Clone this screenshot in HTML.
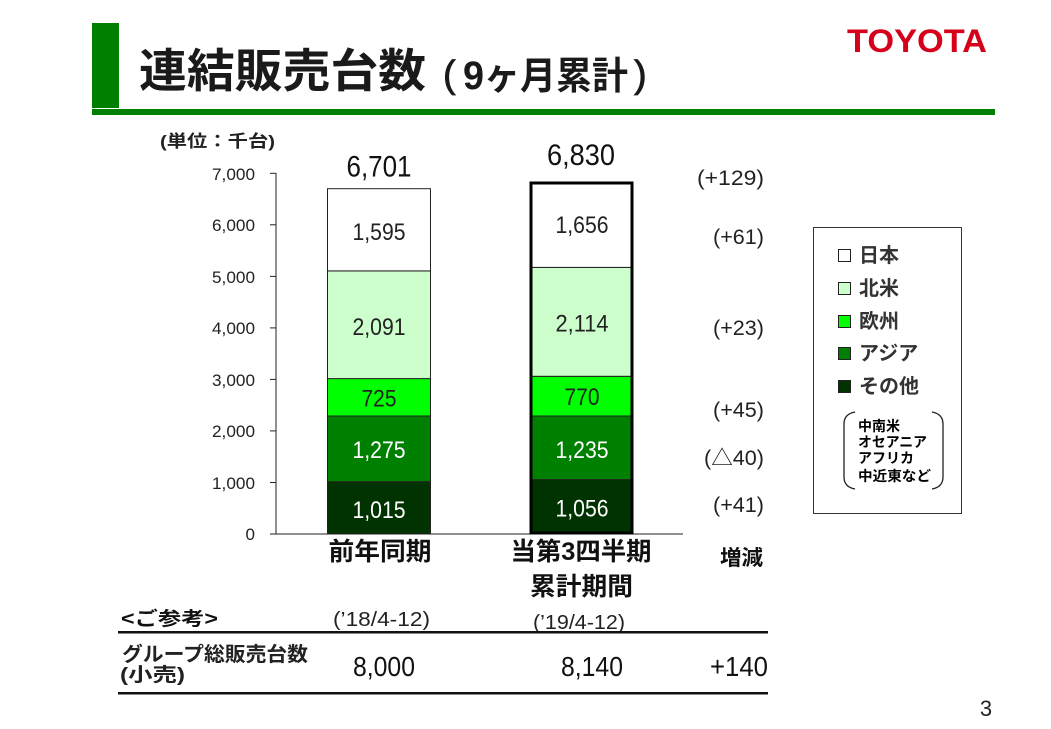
<!DOCTYPE html>
<html><head><meta charset="utf-8"><style>
html,body{margin:0;padding:0;background:#fff;}
svg{display:block;}
.cj{font-family:"Liberation Sans","Noto Sans CJK JP",sans-serif;}
.n{font-family:"Liberation Sans",sans-serif;}
</style></head><body>
<svg width="1051" height="729" viewBox="0 0 1051 729" xmlns="http://www.w3.org/2000/svg">
<rect width="1051" height="729" fill="#fff"/>
<!-- header -->
<rect x="92" y="23" width="27" height="85" fill="#007f00"/>
<rect x="92" y="109" width="903" height="6" fill="#007f00"/>
<text class="cj" x="139" y="87" font-size="46" font-weight="bold" fill="#1a1a1a" textLength="287" lengthAdjust="spacingAndGlyphs">連結販売台数</text>
<text class="n" x="443" y="87" font-size="38" fill="#1a1a1a" stroke="#1a1a1a" stroke-width="0.8">(</text>
<text class="n" x="463" y="89" font-size="40" font-weight="bold" fill="#1a1a1a" textLength="21" lengthAdjust="spacingAndGlyphs">9</text>
<text class="cj" x="484" y="89" font-size="38" font-weight="bold" fill="#1a1a1a" textLength="144" lengthAdjust="spacingAndGlyphs">ヶ月累計</text>
<text class="n" x="634" y="87" font-size="38" fill="#1a1a1a" stroke="#1a1a1a" stroke-width="0.8">)</text>
<text class="n" x="847" y="52" font-size="32" font-weight="bold" fill="#d7001b" textLength="140" lengthAdjust="spacingAndGlyphs">TOYOTA</text>

<!-- unit -->
<text class="cj" x="160" y="147" font-size="17" font-weight="bold" fill="#222" textLength="115" lengthAdjust="spacingAndGlyphs">(単位：千台)</text>

<!-- y axis -->
<g class="n" font-size="17" fill="#222" text-anchor="end">
<text x="255" y="180" textLength="43" lengthAdjust="spacingAndGlyphs">7,000</text>
<text x="255" y="231" textLength="43" lengthAdjust="spacingAndGlyphs">6,000</text>
<text x="255" y="283" textLength="43" lengthAdjust="spacingAndGlyphs">5,000</text>
<text x="255" y="334" textLength="43" lengthAdjust="spacingAndGlyphs">4,000</text>
<text x="255" y="386" textLength="43" lengthAdjust="spacingAndGlyphs">3,000</text>
<text x="255" y="437" textLength="43" lengthAdjust="spacingAndGlyphs">2,000</text>
<text x="255" y="489" textLength="43" lengthAdjust="spacingAndGlyphs">1,000</text>
<text x="255" y="540">0</text>
</g>
<g stroke="#222" stroke-width="1">
<line x1="276" y1="173" x2="276" y2="534"/>
<line x1="270" y1="173.3" x2="276" y2="173.3"/>
<line x1="270" y1="224.8" x2="276" y2="224.8"/>
<line x1="270" y1="276.4" x2="276" y2="276.4"/>
<line x1="270" y1="327.9" x2="276" y2="327.9"/>
<line x1="270" y1="379.4" x2="276" y2="379.4"/>
<line x1="270" y1="430.9" x2="276" y2="430.9"/>
<line x1="270" y1="482.5" x2="276" y2="482.5"/>
<line x1="270" y1="534" x2="683" y2="534"/>
</g>

<!-- bar 1 -->
<g stroke="#222" stroke-width="1">
<rect x="327.5" y="481.7" width="103" height="52.3" fill="#003300"/>
<rect x="327.5" y="416.0" width="103" height="65.7" fill="#008000"/>
<rect x="327.5" y="378.6" width="103" height="37.4" fill="#00ff00"/>
<rect x="327.5" y="270.9" width="103" height="107.7" fill="#ccffcc"/>
<rect x="327.5" y="188.7" width="103" height="82.2" fill="#ffffff"/>
</g>
<!-- bar 2 -->
<g stroke="#222" stroke-width="1">
<rect x="531" y="479.6" width="101" height="54.4" fill="#003300"/>
<rect x="531" y="416.0" width="101" height="63.6" fill="#008000"/>
<rect x="531" y="376.3" width="101" height="39.7" fill="#00ff00"/>
<rect x="531" y="267.4" width="101" height="108.9" fill="#ccffcc"/>
<rect x="531" y="182.1" width="101" height="85.3" fill="#ffffff"/>
</g>
<rect x="531" y="183" width="101" height="350" fill="none" stroke="#000" stroke-width="3"/>

<!-- bar labels -->
<g class="n" font-size="24" text-anchor="middle">
<text x="379" y="176.5" font-size="30" fill="#111" textLength="65" lengthAdjust="spacingAndGlyphs">6,701</text>
<text x="581" y="165" font-size="30" fill="#111" textLength="68" lengthAdjust="spacingAndGlyphs">6,830</text>
<text x="379" y="240" fill="#222" textLength="53" lengthAdjust="spacingAndGlyphs">1,595</text>
<text x="379" y="335" fill="#222" textLength="53" lengthAdjust="spacingAndGlyphs">2,091</text>
<text x="379" y="406.5" fill="#222" textLength="35" lengthAdjust="spacingAndGlyphs">725</text>
<text x="379" y="458" fill="#fff" textLength="53" lengthAdjust="spacingAndGlyphs">1,275</text>
<text x="379" y="518" fill="#fff" textLength="53" lengthAdjust="spacingAndGlyphs">1,015</text>
<text x="582" y="233" fill="#222" textLength="53" lengthAdjust="spacingAndGlyphs">1,656</text>
<text x="582" y="331.5" fill="#222" textLength="53" lengthAdjust="spacingAndGlyphs">2,114</text>
<text x="582" y="405" fill="#222" textLength="35" lengthAdjust="spacingAndGlyphs">770</text>
<text x="582" y="458" fill="#fff" textLength="53" lengthAdjust="spacingAndGlyphs">1,235</text>
<text x="582" y="516.5" fill="#fff" textLength="53" lengthAdjust="spacingAndGlyphs">1,056</text>
</g>

<!-- change column -->
<g class="cj" font-size="21" fill="#222" text-anchor="end">
<text x="764" y="185" textLength="67" lengthAdjust="spacingAndGlyphs">(+129)</text>
<text x="764" y="244" textLength="51" lengthAdjust="spacingAndGlyphs">(+61)</text>
<text x="764" y="335" textLength="51" lengthAdjust="spacingAndGlyphs">(+23)</text>
<text x="764" y="417" textLength="51" lengthAdjust="spacingAndGlyphs">(+45)</text>
<text x="764" y="465" textLength="60" lengthAdjust="spacingAndGlyphs">(△40)</text>
<text x="764" y="512" textLength="51" lengthAdjust="spacingAndGlyphs">(+41)</text>
<text x="763" y="565" font-weight="bold" fill="#111" textLength="43" lengthAdjust="spacingAndGlyphs">増減</text>
</g>

<!-- legend -->
<rect x="813.5" y="227.5" width="148" height="286" fill="#fff" stroke="#333" stroke-width="1"/>
<g stroke="#222" stroke-width="1">
<rect x="838.5" y="249.5" width="12" height="12" fill="#fff"/>
<rect x="838.5" y="282.5" width="12" height="12" fill="#ccffcc"/>
<rect x="838.5" y="315.5" width="12" height="12" fill="#00ff00"/>
<rect x="838.5" y="347.5" width="12" height="12" fill="#008000"/>
<rect x="838.5" y="380.5" width="12" height="12" fill="#003300"/>
</g>
<g class="cj" font-size="20" fill="#333" font-weight="bold">
<text x="859" y="262">日本</text>
<text x="859" y="295">北米</text>
<text x="859" y="328">欧州</text>
<text x="859" y="360">アジア</text>
<text x="859" y="393">その他</text>
</g>
<path d="M855 412 Q844 414 844 424 L844 477 Q844 487 855 489" fill="none" stroke="#222" stroke-width="1.3"/>
<path d="M932 412 Q943 414 943 424 L943 477 Q943 487 932 489" fill="none" stroke="#222" stroke-width="1.3"/>
<g class="cj" font-size="14" font-weight="bold" fill="#000">
<text x="858" y="431">中南米</text>
<text x="858" y="447" textLength="69" lengthAdjust="spacingAndGlyphs">オセアニア</text>
<text x="858" y="463">アフリカ</text>
<text x="858" y="481" textLength="73" lengthAdjust="spacingAndGlyphs">中近東など</text>
</g>

<!-- categories -->
<g class="cj" font-weight="bold" fill="#111" text-anchor="middle" font-size="25">
<text x="380" y="560" textLength="103" lengthAdjust="spacingAndGlyphs">前年同期</text>
<text x="581" y="560" textLength="141" lengthAdjust="spacingAndGlyphs">当第3四半期</text>
<text x="581.5" y="595" textLength="103" lengthAdjust="spacingAndGlyphs">累計期間</text>
</g>
<g class="cj" font-size="20" fill="#222" text-anchor="middle">
<text x="381.5" y="626" textLength="97" lengthAdjust="spacingAndGlyphs">(’18/4-12)</text>
<text x="579" y="629" textLength="92" lengthAdjust="spacingAndGlyphs">(’19/4-12)</text>
</g>
<text class="cj" x="121" y="625" font-size="19" font-weight="bold" fill="#111" textLength="97" lengthAdjust="spacingAndGlyphs">&lt;ご参考&gt;</text>

<!-- table -->
<rect x="118" y="631" width="650" height="2.5" fill="#111"/>
<rect x="118" y="692" width="650" height="2.5" fill="#111"/>
<text class="cj" x="122" y="661" font-size="20" font-weight="bold" fill="#222" textLength="186" lengthAdjust="spacingAndGlyphs">グループ総販売台数</text>
<text class="cj" x="120" y="681" font-size="19" font-weight="bold" fill="#222" textLength="65" lengthAdjust="spacingAndGlyphs">(小売)</text>
<g class="n" font-size="28" fill="#111" text-anchor="middle">
<text x="384" y="676" textLength="62" lengthAdjust="spacingAndGlyphs">8,000</text>
<text x="592" y="676" textLength="62" lengthAdjust="spacingAndGlyphs">8,140</text>
</g>
<text class="n" x="768" y="676" font-size="28" fill="#111" text-anchor="end" textLength="58" lengthAdjust="spacingAndGlyphs">+140</text>

<text class="n" x="986" y="716" font-size="22" fill="#222" text-anchor="middle">3</text>
</svg>
</body></html>
